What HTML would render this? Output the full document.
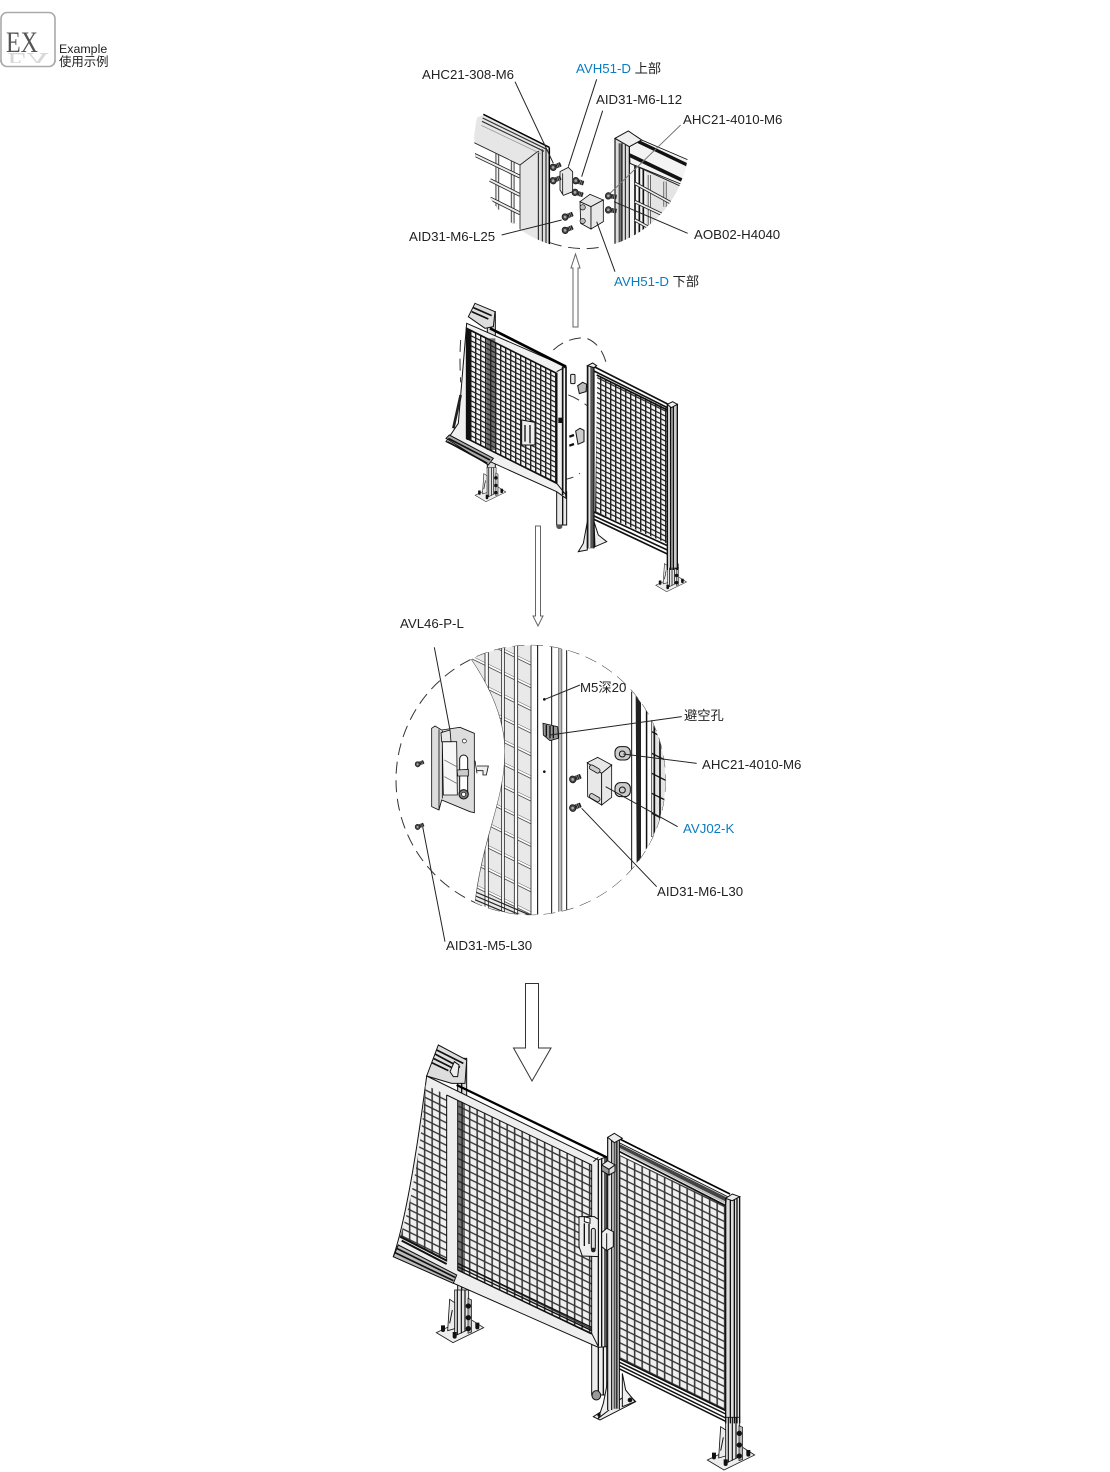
<!DOCTYPE html>
<html><head><meta charset="utf-8"><style>
html,body{margin:0;padding:0;background:#fff}
svg{display:block}
text{font-family:"Liberation Sans","Noto Sans CJK SC",sans-serif;font-size:13.25px;fill:#222}
.b{fill:#0a7cc1}
.l{stroke:#222;stroke-width:3;fill:none}
.g{stroke:#777;stroke-width:3;fill:none}
.f{fill:#e8e8e8;stroke:#111;stroke-width:2.5}
.d{fill:none;stroke:#333;stroke-width:3;stroke-dasharray:36 20}
</style></head><body>
<svg width="1110" height="1472" viewBox="0 0 1110 1472" xmlns="http://www.w3.org/2000/svg">
<defs>
<pattern id="m4" width="22.5" height="22.5" patternUnits="userSpaceOnUse" patternTransform="matrix(1 .49 0 1 4 0)">
<rect width="22.5" height="22.5" fill="#f0f0f0"/>
<path d="M0 2.5H22.5M2.5 0V22.5" stroke="#333" stroke-width="4.6"/>
</pattern>
<pattern id="m2" width="15" height="15" patternUnits="userSpaceOnUse" patternTransform="matrix(1 .49 0 1 0 0)">
<rect width="15" height="15" fill="#f3f3f3"/>
<path d="M0 2H15M2 0V15" stroke="#222" stroke-width="4.4"/>
</pattern>
<pattern id="m3" width="46" height="68" patternUnits="userSpaceOnUse" patternTransform="matrix(1 .49 0 1 0 10)">
<rect width="46" height="68" fill="#e9e9e9"/>
<rect y="0" width="46" height="9" fill="#fff"/>
<path d="M0 0H46M0 9H46" stroke="#222" stroke-width="2.2"/>
</pattern>
<g id="bolt"><g transform="rotate(-22)"><rect x="-2" y="-7" width="24" height="14" rx="2" fill="#222"/><path d="M6-7V7M11-7V7M16-7V7" stroke="#999" stroke-width="2"/><ellipse cx="-3" cy="0" rx="9" ry="10" fill="#444" stroke="#111" stroke-width="2"/><circle cx="-3" r="4" fill="#aaa"/></g></g>
<g id="foot">
<polygon points="-78,-2 17,-47 64,-17 -28,28" fill="#eee" stroke="#222" stroke-width="2.5"/>
<polygon points="-23,-130 19,-130 19,-12 -23,8" fill="#e6e6e6" stroke="#111" stroke-width="2.5"/>
<path d="M-15-130V5M-3-130V0M8-130V-7" stroke="#111" stroke-width="3.5"/>
<polygon points="-38,-102 -23,-92 -23,-14 -44,-8" fill="#ececec" stroke="#111" stroke-width="2.5"/>
<path d="M-30-70L-38-30" stroke="#111" stroke-width="3"/>
<polygon points="17,-105 28,-100 28,-4 17,0" fill="#bbb" stroke="#111" stroke-width="2"/>
<g fill="#111"><circle cx="18" cy="-82" r="8"/><circle cx="18" cy="-47" r="8"/><circle cx="18" cy="-14" r="8"/>
<path d="M-64-24h12v14a6 6 0 0 1-12 0z"/><path d="M39-32h12v14a6 6 0 0 1-12 0z"/><path d="M-29-4h12v14a6 6 0 0 1-12 0z"/></g>
</g>
<clipPath id="c1"><circle cx="575" cy="275" r="322"/></clipPath>
<clipPath id="c3"><circle cx="437" cy="510" r="404"/></clipPath>
<clipPath id="cm3"><path d="M258 148C300 210 350 300 358 400C365 560 300 650 270 870L270 920L458 920L458 100L295 100Z"/></clipPath>
</defs>

<!-- EX icon -->
<rect x="1" y="12.5" width="54" height="54" rx="6" fill="#fff" stroke="#aaa" stroke-width="1.6"/>
<text x="7" y="-53" transform="scale(1,-1)" style="font-family:'Liberation Serif',serif;font-size:30px;fill:#d8d8d8" textLength="42" lengthAdjust="spacingAndGlyphs">EX</text>
<rect x="0" y="63" width="57" height="12" fill="#fff"/>
<path d="M1 60V60.500A6 6 0 0 0 7 66.500H49A6 6 0 0 0 55 60.500V60" fill="none" stroke="#aaa" stroke-width="1.6"/>
<text x="6" y="52" style="font-family:'Liberation Serif',serif;font-size:30px;fill:#555" textLength="32" lengthAdjust="spacingAndGlyphs">EX</text>
<text x="59" y="53" style="font-size:12.4px">Example</text>
<text x="59" y="66" style="font-size:12.4px">使用示例</text>

<!-- SECTION 1 -->
<g transform="translate(390,50) scale(.33333)">
<g clip-path="url(#c1)">
 <polygon points="240,270 390,345 390,600 240,600" fill="#fff"/>
 <path d="M322 310V480M368 330V520" stroke="#222" stroke-width="11"/><path d="M322 310V480M368 330V520" stroke="#eee" stroke-width="6"/>
 <path d="M240 308L390 380M300 390L390 435M300 445L390 490M240 250L390 340" stroke="#222" stroke-width="11"/>
 <path d="M240 308L390 380M300 390L390 435M300 445L390 490" stroke="#eee" stroke-width="6"/>
 <polygon points="240,212 478,292 445,303 390,345 240,272" fill="#e6e6e6"/>
 <polygon points="240,212 280,195 478,292 445,303" fill="#e6e6e6"/>
 <path d="M240 272L390 345" stroke="#222" stroke-width="2.5"/>
 <polygon points="390,345 445,303 445,600 390,600" fill="#e6e6e6"/>
 <path d="M390 345V600M390 345L445 303" stroke="#222" stroke-width="2.5"/>
 <rect x="445" y="296" width="33" height="300" fill="#ddd"/>
 <path d="M445 303V600M457 298V600M468 296V600" stroke="#111" stroke-width="3"/><path d="M478 292V600" stroke="#000" stroke-width="4.5"/>
 <path d="M280 193L478 292" stroke="#000" stroke-width="4.5"/>
 <path d="M278 204L470 298M276 214L462 304" stroke="#333" stroke-width="3.5"/>
 <path d="M274 226L452 311" stroke="#999" stroke-width="2.5"/>
</g>
<g clip-path="url(#c1)">
 <polygon points="720,320 905,400 905,620 720,620" fill="#e4e4e4"/>
 <rect x="720" y="330" width="48" height="300" fill="#f5f5f5"/>
 <path d="M735 345V600M748 352V600M760 358V600" stroke="#111" stroke-width="5"/>
 <path d="M778 375V525M825 395V470" stroke="#222" stroke-width="9"/><path d="M778 375V525M825 395V470" stroke="#eee" stroke-width="5"/>
 <path d="M735 400L845 460M735 455L820 495M735 510L780 535" stroke="#222" stroke-width="10"/>
 <path d="M735 400L845 460M735 455L820 495M735 510L780 535" stroke="#eee" stroke-width="5"/>
 <polygon points="718,290 755,270 895,330 892,352 875,403 720,340" fill="#f3f3f3" stroke="#111" stroke-width="2.5"/>
 <path d="M745 275L892 345" stroke="#111" stroke-width="10"/>
 <path d="M718 315L875 390" stroke="#111" stroke-width="11"/>
 <path d="M720 340L875 410" stroke="#222" stroke-width="3"/>
 <rect x="675" y="262" width="43" height="340" fill="#ddd"/>
 <path d="M675 265V600M718 290V600" stroke="#111" stroke-width="3.5"/>
 <rect x="686" y="280" width="12" height="320" fill="#333"/><rect x="689" y="280" width="3" height="320" fill="#999"/>
 <path d="M706 285V600" stroke="#111" stroke-width="3"/>
 <polygon points="675,265 715,243 755,270 718,290" fill="#f0f0f0" stroke="#111" stroke-width="3"/>
</g>
<path class="d" d="M480 578Q560 606 640 590"/>
<polygon class="f" points="510,365 535,352 548,365 548,425 520,436 510,420"/>
<path d="M518 370V432" stroke="#111" stroke-width="2.5"/>
<polygon class="f" points="570,455 603,470 603,537 572,520"/>
<polygon class="f" points="570,455 600,433 640,450 603,470"/>
<polygon class="f" points="603,470 640,450 640,515 603,537"/>
<circle cx="578" cy="472" r="8" fill="#bbb" stroke="#111" stroke-width="2"/><circle cx="578" cy="513" r="8" fill="#bbb" stroke="#111" stroke-width="2"/>
<use href="#bolt" transform="translate(492,351)"/><use href="#bolt" transform="translate(492,391)"/>
<use href="#bolt" transform="translate(560,393) rotate(40)"/><use href="#bolt" transform="translate(558,428) rotate(40)"/>
<use href="#bolt" transform="translate(528,500)"/><use href="#bolt" transform="translate(528,540)"/>
<use href="#bolt" transform="translate(658,438) rotate(30)"/><use href="#bolt" transform="translate(658,480) rotate(30)"/>
<path class="l" d="M375 95L490 340M620 88L535 350M638 182L575 380M893 550L672 455M335 555L515 510M675 665L620 515"/>
<path class="g" d="M872 225L660 430"/>
</g>

<!-- SECTION 2 -->
<g transform="translate(430,295) scale(.33333)">
<path class="d" d="M92 135Q88 190 92 262"/>
<path class="d" d="M370 165Q410 128 465 128Q515 145 530 210"/>
<path class="d" d="M360 290Q420 290 475 335M395 555Q430 550 450 535"/>
<rect x="172" y="50" width="24" height="470" fill="#ddd" stroke="#111" stroke-width="3"/>
<use href="#foot" transform="translate(186,602) scale(.65)"/>
<polygon points="115,65 135,25 195,50 190,95 165,100" fill="#ddd" stroke="#111" stroke-width="3"/>
<path d="M130 38L185 62M125 50L175 72" stroke="#111" stroke-width="5"/>
<rect x="380" y="590" width="30" height="100" fill="#e8e8e8" stroke="#111" stroke-width="3"/>
<path d="M398 590V690" stroke="#111" stroke-width="4"/><ellipse cx="388" cy="695" rx="9" ry="7" fill="#555"/>
<polygon points="110,85 408,215 408,610 380,590 48,440 85,385" fill="#f1f1f1" stroke="#111" stroke-width="3"/>
<path d="M110 98L108 430L380 565L380 235Z" fill="url(#m2)"/>
<path d="M110 100L380 235V565L110 430Z" fill="none" stroke="#111" stroke-width="5"/>
<rect x="110" y="105" width="14" height="330" fill="#111"/>
<rect x="170" y="130" width="26" height="335" fill="#222" opacity=".62"/>
<path d="M180 100L408 215" stroke="#000" stroke-width="8"/>
<path d="M408 215V605M398 215V600" stroke="#111" stroke-width="5"/>
<path d="M380 230L408 215M380 565L408 600" stroke="#111" stroke-width="3"/>
<polygon points="48,430 58,420 190,490 175,510" fill="#aaa" stroke="#111" stroke-width="3"/>
<path d="M55 430L180 495M52 440L172 505" stroke="#111" stroke-width="5"/>
<path d="M92 300L70 400" stroke="#222" stroke-width="8"/>
<polygon points="275,375 315,382 315,450 275,450" fill="#eee" stroke="#111" stroke-width="3"/>
<path d="M285 390V440M300 390V445" stroke="#111" stroke-width="4"/>
<rect x="385" y="368" width="13" height="16" fill="#111"/>
<rect x="422" y="238" width="13" height="28" rx="3" fill="#e8e8e8" stroke="#111" stroke-width="3"/>
<polygon points="443,272 458,262 470,268 468,290 448,296" fill="#bbb" stroke="#111" stroke-width="3"/>
<polygon points="437,408 450,400 462,406 462,440 444,448" fill="#ccc" stroke="#111" stroke-width="3"/>
<path d="M418 425L432 420M418 452L432 447" stroke="#111" stroke-width="7"/>
<rect x="712" y="328" width="30" height="500" fill="#ccc"/>
<use href="#foot" transform="translate(728,872) scale(.65)"/>
<path d="M502 240L710 340V745L495 650Z" fill="url(#m2)"/>
<path d="M492 215L715 328M492 228L712 338M500 240L712 345" stroke="#111" stroke-width="5"/>
<path d="M490 650L712 752M490 662L712 765M490 672L712 777" stroke="#111" stroke-width="5"/>
<polygon points="445,770 460,745 472,680 472,765" fill="#eee" stroke="#111" stroke-width="3"/>
<polygon points="492,680 505,720 530,740 495,755" fill="#eee" stroke="#111" stroke-width="3"/>
<rect x="472" y="212" width="20" height="548" fill="#555"/><rect x="476" y="214" width="5" height="545" fill="#e4e4e4"/>
<path d="M472 212V760M492 218V760" stroke="#111" stroke-width="3.5"/>
<polygon points="472,212 488,204 500,212 492,218" fill="#eee" stroke="#111" stroke-width="3"/>
<rect x="712" y="328" width="30" height="490" fill="#ccc"/>
<path d="M712 328V825M722 332V825M730 332V825M742 326V825" stroke="#111" stroke-width="4"/>
<polygon points="712,328 728,320 742,328 724,338" fill="#eee" stroke="#111" stroke-width="3"/>
</g>

<!-- SECTION 3 -->
<g transform="translate(385,610) scale(.33333)">
<circle class="d" cx="437" cy="510" r="404" stroke-dasharray="32 26"/>
<g clip-path="url(#c3)">
 <rect x="440" y="100" width="370" height="830" fill="#fff"/>
 <path d="M258 100H458V920H258Z" fill="url(#m3)" clip-path="url(#cm3)"/>
 <g clip-path="url(#cm3)">
 <path d="M300 100H310V920H300ZM350 100H358V920H350ZM388 100H398V920H388ZM438 100H458V920H438Z" fill="#fff" stroke="#222" stroke-width="2.5"/>
 <path d="M258 840L458 925M258 852L458 937M258 864L458 949M258 876L458 961M258 888L458 973" stroke="#222" stroke-width="3.5"/>
 <path d="M258 148C300 210 350 300 358 400C365 560 300 650 270 870" fill="none" stroke="#444" stroke-width="3"/>
 </g>
 <path d="M458 100V920M500 100V920M522 100V920M530 100V920M545 100V920" stroke="#111" stroke-width="3"/>
 <rect x="522" y="100" width="8" height="820" fill="#bbb"/>
 <rect x="740" y="240" width="20" height="550" fill="#fff"/>
 <path d="M740 245V780" stroke="#111" stroke-width="3"/>
 <polygon points="752,255 768,270 768,750 755,765" fill="#222"/>
 <path d="M785 290V720" stroke="#111" stroke-width="5"/>
 <rect x="787" y="300" width="70" height="430" fill="#fff"/>
 <polygon points="800,330 850,360 850,680 800,680" fill="#e4e4e4" stroke="#222" stroke-width="2"/>
 <path d="M808 340V690M825 360V660" stroke="#111" stroke-width="5"/>
 <path d="M800 365L850 390M800 430L850 455M800 490L850 515M800 550L850 575M800 610L850 635" stroke="#111" stroke-width="4"/>
</g>
<circle cx="478" cy="268" r="4" fill="#111"/><circle cx="478" cy="485" r="4" fill="#111"/>
<polygon points="474,340 518,350 520,385 495,392 475,375" fill="#999" stroke="#111" stroke-width="2.5"/>
<path d="M484 345V380M495 348V385M505 348V385" stroke="#111" stroke-width="4"/>
<polygon points="140,355 150,348 170,360 225,352 268,370 268,608 255,605 170,570 162,600 140,590" fill="#ddd" stroke="#111" stroke-width="2.5"/>
<path d="M162 358V598M172 362V565" stroke="#111" stroke-width="2.5"/>
<polygon points="172,395 215,395 217,555 175,555" fill="#f7f7f7" stroke="#111" stroke-width="2.5"/>
<path d="M178 450L215 470M178 500L215 520" stroke="#777" stroke-width="2.5"/>
<polygon class="f" points="168,368 195,360 198,395 170,395"/>
<rect x="224" y="435" width="24" height="128" rx="12" fill="#fff" stroke="#111" stroke-width="3"/>
<polygon points="216,480 250,478 250,498 218,498" fill="#ccc" stroke="#111" stroke-width="2.5"/>
<circle cx="236" cy="553" r="14" fill="#777" stroke="#111" stroke-width="3"/><circle cx="236" cy="553" r="6" fill="#fff" stroke="#111" stroke-width="2"/>
<circle cx="238" cy="393" r="6" fill="#fff" stroke="#111" stroke-width="2"/>
<path d="M270 452L276 490M276 468H310L304 495H294V482H276" fill="#eee" stroke="#111" stroke-width="2.5"/>
<use href="#bolt" transform="translate(100,462) scale(.8)"/><use href="#bolt" transform="translate(100,650) scale(.8)"/>
<polygon class="f" points="607,458 650,490 650,585 608,560"/>
<polygon class="f" points="607,458 638,442 680,465 650,490"/>
<polygon class="f" points="650,490 680,465 680,562 650,585"/>
<rect x="612" y="470" width="34" height="14" rx="6" transform="rotate(30 629 477)" fill="#ccc" stroke="#111" stroke-width="2.5"/>
<rect x="612" y="556" width="34" height="14" rx="6" transform="rotate(30 629 563)" fill="#ccc" stroke="#111" stroke-width="2.5"/>
<use href="#bolt" transform="translate(566,507) scale(1.05)"/><use href="#bolt" transform="translate(566,593) scale(1.05)"/>
<g fill="#ccc" stroke="#111" stroke-width="3"><rect x="690" y="410" width="46" height="40" rx="16"/><rect x="690" y="518" width="46" height="42" rx="16"/></g>
<g fill="none" stroke="#111" stroke-width="3"><circle cx="712" cy="432" r="9"/><circle cx="712" cy="540" r="9"/></g>
<path class="l" d="M148 112L195 360M585 225L480 268M890 320L495 375M935 460L715 432M878 650L662 530M815 830L590 595M180 995L113 650"/>
</g>

<!-- SECTION 4 -->
<g transform="translate(385,1040) scale(.33333)">
<rect x="218" y="55" width="27" height="720" fill="#ddd" stroke="#111" stroke-width="3"/>
<path d="M230 55V760" stroke="#111" stroke-width="4"/>
<use href="#foot" transform="translate(232,880)"/>
<polygon points="125,108 160,15 245,60 240,130 200,130" fill="#ddd" stroke="#111" stroke-width="3"/>
<path d="M155 30L235 70M150 42L225 82M145 55L205 85M140 68L190 92" stroke="#111" stroke-width="5"/>
<polygon points="195,95 208,65 222,75 218,110 205,110" fill="#eee" stroke="#111" stroke-width="3"/>
<rect x="620" y="915" width="45" height="150" fill="#eee" stroke="#111" stroke-width="3"/>
<path d="M640 920V1065M655 920V1065" stroke="#111" stroke-width="4"/>
<ellipse cx="634" cy="1066" rx="13" ry="14" fill="#999" stroke="#111" stroke-width="3"/>
<path d="M125 108L640 360L665 350V920L640 922L25 650C55 560 90 380 125 108Z" fill="#eee" stroke="#111" stroke-width="3"/>
<path d="M122 135L185 165V665L45 590C80 490 108 320 122 135Z" fill="url(#m4)"/>
<path d="M220 180L620 375V880L218 690Z" fill="url(#m4)"/>
<rect x="185" y="165" width="33" height="520" fill="#eee"/>
<polygon points="218,180 240,190 240,700 218,690" fill="#222" opacity=".6"/>
<path d="M218 670L620 862M218 680L620 872M218 690L620 882" stroke="#111" stroke-width="4"/>
<path d="M45 590L185 662M50 602L185 672" stroke="#111" stroke-width="6"/>
<path d="M185 165L620 375V880L218 690" fill="none" stroke="#111" stroke-width="3"/>
<path d="M185 165V665M218 180V690" stroke="#111" stroke-width="3"/>
<path d="M215 135L665 352" stroke="#000" stroke-width="7"/>
<path d="M625 365L640 352M620 880L640 920" stroke="#111" stroke-width="3"/>
<path d="M640 360V920M650 355V920M660 350V920" stroke="#111" stroke-width="4"/>
<polygon points="25,650 40,615 215,705 205,730" fill="#bbb" stroke="#111" stroke-width="3"/>
<path d="M35 625L210 712M30 638L205 722" stroke="#111" stroke-width="5"/>
<polygon points="582,530 628,530 640,538 640,650 592,648 582,620" fill="#eee" stroke="#111" stroke-width="3"/>
<polygon points="598,530 615,535 615,550 598,545" fill="#fff" stroke="#111" stroke-width="3"/>
<path d="M598 550V618M612 552V612" stroke="#111" stroke-width="4"/>
<rect x="619" y="565" width="12" height="65" rx="6" fill="#ddd" stroke="#111" stroke-width="3"/>
<circle cx="625" cy="630" r="7" fill="#222"/>
<rect x="1022" y="475" width="42" height="700" fill="#ddd"/>
<use href="#foot" transform="translate(1045,1262)"/>
<polygon points="625,1130 645,1140 752,1085 730,1062" fill="#eee" stroke="#111" stroke-width="3"/>
<polygon points="640,1135 655,1090 672,1005 672,1110" fill="#eee" stroke="#111" stroke-width="3"/>
<polygon points="712,1000 722,1050 750,1085 712,1100" fill="#eee" stroke="#111" stroke-width="3"/>
<circle cx="735" cy="1080" r="7" fill="#111"/><circle cx="642" cy="1125" r="5" fill="#111"/>
<path d="M705 345L1022 498V1115L695 950Z" fill="url(#m4)"/>
<path d="M690 290L1035 462" stroke="#000" stroke-width="5"/>
<path d="M690 302L1028 470" stroke="#222" stroke-width="3"/>
<polygon points="695,308 1025,472 1025,486 695,322" fill="#444"/>
<path d="M695 322L1025 490" stroke="#bbb" stroke-width="6"/>
<path d="M700 333L1022 497" stroke="#111" stroke-width="5"/>
<path d="M690 950L1022 1112M690 960L1022 1122M690 970L1022 1134M690 980L1022 1144" stroke="#111" stroke-width="4.5"/>
<rect x="668" y="292" width="35" height="818" fill="#e4e4e4"/>
<rect x="686" y="296" width="12" height="810" fill="#333"/><rect x="689" y="296" width="4" height="810" fill="#999"/>
<path d="M668 292V1110M680 298V1110M703 298V1108" stroke="#111" stroke-width="3.5"/>
<polygon points="668,292 688,280 712,295 688,308" fill="#eee" stroke="#111" stroke-width="3"/>
<path d="M1022 475V1150M1036 475V1150M1048 470V1150M1056 470V1150M1064 468V1150" stroke="#111" stroke-width="4"/>
<polygon points="1022,475 1042,462 1064,470 1042,482" fill="#eee" stroke="#111" stroke-width="3"/>
<polygon points="650,375 668,362 690,375 672,388" fill="#e8e8e8" stroke="#111" stroke-width="3"/>
<polygon points="650,375 672,388 672,405 650,392" fill="#999" stroke="#111" stroke-width="3"/>
<polygon points="672,388 690,375 690,395 672,405" fill="#ddd" stroke="#111" stroke-width="3"/>
<polygon points="650,578 665,565 685,575 685,620 665,632 650,620" fill="#eee" stroke="#111" stroke-width="3"/>
<path d="M665 580V630" stroke="#111" stroke-width="3"/>
</g>

<!-- Arrows -->
<path d="M573 327V268H571L575.5 254L580 268H578V327Z" fill="#fff" stroke="#666" stroke-width="1"/>
<path d="M535.5 526V616H533L538 626L543 616H540.5V526Z" fill="#fff" stroke="#666" stroke-width="1"/>
<path d="M525.5 983.5V1048H513.5L532 1081L551 1048H538.5V983.5Z" fill="#fff" stroke="#333" stroke-width="1"/>

<!-- Labels -->
<text x="422" y="79">AHC21-308-M6</text>
<text x="576" y="73"><tspan class="b">AVH51-D</tspan> 上部</text>
<text x="596" y="104">AID31-M6-L12</text>
<text x="683" y="124">AHC21-4010-M6</text>
<text x="694" y="239">AOB02-H4040</text>
<text x="409" y="241">AID31-M6-L25</text>
<text x="614" y="286"><tspan class="b">AVH51-D</tspan> 下部</text>
<text x="400" y="628">AVL46-P-L</text>
<text x="580" y="692">M5深20</text>
<text x="684" y="720">避空孔</text>
<text x="702" y="769">AHC21-4010-M6</text>
<text x="683" y="833" class="b">AVJ02-K</text>
<text x="657" y="896">AID31-M6-L30</text>
<text x="446" y="950">AID31-M5-L30</text>
</svg>
</body></html>
